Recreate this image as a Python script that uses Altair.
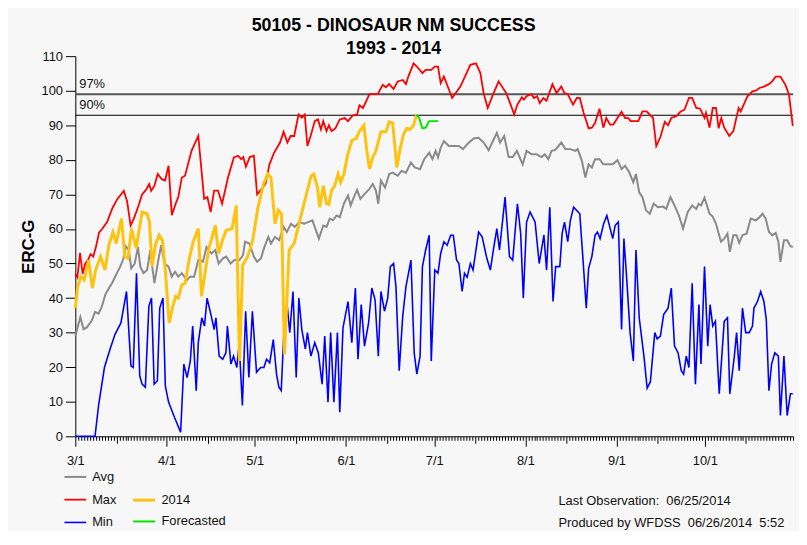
import altair as alt
import pandas as pd

# ---- data (x = days after 3/1, y = ERC-G) ----
max_pts = [(0,47),(0.7,46),(1.6,53),(2.5,47),(3.4,50),(4.3,51),(5.2,52.7),(6.1,52),(7,54.8),(8.1,59),(9.1,60),(10.8,62),
           (12.6,66),(14.3,68.7),(16.5,71),(17.6,68),(18.8,61),(19.9,63),(21.6,67),(22.7,70),(24,71.3),(25.1,73),(25.8,71),
           (26.9,72.5),(28,75.9),(29.4,74.4),(30.5,74),(31.7,78.3),(32.8,64),(34.1,67.3),(35,69.2),(36.2,74.9),(37.3,75.4),
           (39.5,82.6),(41.8,86.9),(43.8,68.7),(44.9,69.2),(46,64.9),(47.2,71.1),(48.5,71.1),(49.9,67.3),(51.9,74.9),
           (53.9,80.7),(55.3,81.2),(56.4,80.2),(57.1,80.8),(58,78),(59.3,80.8),(60.7,81.2),(61.8,70),(63.4,71.6),(64.7,73.2),
           (66,78.7),(67.6,82.1),(69.6,85),(70.8,88.1),(72.1,85),(73.2,86.9),(74.4,86.9),(75.9,93.1),(77,92.2),(78,93.1),
           (78.9,84),(80,86.9),(81.4,91.2),(82.5,91.7),(83.5,88.8),(84.3,91.2),(85.4,88.3),(86.2,90),(87.1,88.3),(88.4,89.1),
           (89.9,91.7),(91.6,92.1),(92.7,91.2),(94.4,92.9),(95.8,93.1),(96.6,95.8),(97.8,95),(100,99),(102.8,99),(104.5,101.7),
           (105.6,101),(106.7,101.9),(108.2,100.5),(109.6,102.7),(111.3,103.1),(112.4,101.9),(113.2,104.1),(115,107.9),
           (116.1,107),(118,105.1),(119.1,106),(121,106),(122.2,107),(123.3,107),(124.2,102.2),(125.3,104.1),(128.1,97.9),
           (130.9,101.2),(134.3,107.5),(136.2,107.9),(137.7,105.1),(138.8,99.3),(140.2,95),(142.2,99.3),(143.9,102.7),
           (146.5,99.3),(147.8,96.4),(149.2,93.1),(150.3,96),(151.8,98.1),(152.5,97.4),(153.4,98.4),(155.1,99),(155.9,97.9),
           (157,98.4),(157.9,96.4),(159.1,97.9),(160.2,97.1),(162.2,101.9),(163.6,99.3),(165.2,101.2),(166.3,99.3),(167.4,99),
           (169.2,96),(170.5,97.9),(171.5,97.9),(172.8,93.6),(174.5,89.1),(175.6,89.3),(176.7,90.7),(178.2,94.8),(179.5,89.3),
           (180.5,92.1),(181.8,90.2),(182.9,90.2),(184.3,92.1),(185.7,93.9),(186.9,92.1),(188,92.1),(188.8,91.2),(191.4,91.2),
           (192.8,94),(194.2,94),(196.4,92.1),(197.5,84),(198.9,86.6),(200.4,91),(201.5,90),(202.6,92.1),(204.3,92.6),
           (205.7,93.9),(207.1,94.5),(208.6,97.9),(209.7,97.9),(211.1,95),(212.4,94.8),(213.9,92.1),(214.4,93.6),(215.6,89.3),
           (216.7,95),(217.8,95),(218.7,89.1),(219.6,92.1),(220.6,89.3),(222.3,86.9),(223.7,88.3),(225.5,95),(226.2,94),
           (228.5,98.4),(230.2,99.8),(231.3,100),(232.6,100.8),(234.1,101.2),(235.8,101.9),(236.9,102.7),(238.1,104.1),
           (239.7,104.1),(241.4,101.7),(242.6,99),(243.9,89.8)]

avg_pts = [(0,29),(1.7,34.5),(2.8,31),(3.9,31.5),(5.6,33.5),(6.7,36),(7.9,35.5),(9,37.5),(10.2,41),(11.5,43),(12.6,44.5),
           (14,47),(15.2,49),(16.2,51),(17.2,55),(18.2,53.9),(19,48.6),(20.2,50),(21.3,54.8),(22.1,49.1),(23.2,47.2),
           (24.4,48.1),(25.5,53.9),(26,50),(26.9,44.3),(28,50),(29.2,55.3),(30.3,50),(31.7,49.1),(32.8,46.2),(33.9,47.6),
           (35,46.2),(36.2,47.2),(37.9,45.2),(39,46.2),(40.4,46.2),(41.8,51),(43.4,50.5),(44.6,54.8),(46.3,52.9),(47.6,53.9),
           (48.7,50),(50.2,51.5),(51.3,52),(52.8,50),(54.1,51),(55.8,51),(57,52.4),(57.7,56.3),(59.2,55.8),(60.7,52),
           (61.8,50.5),(63.1,51.5),(64.3,54.8),(65.6,57.7),(66.5,55.8),(67.9,57.7),(69.3,56.8),(70.8,60.6),(71.9,59.1),
           (73.3,61.5),(74.6,60.6),(76.1,62),(77.8,61.5),(79.1,62),(80.6,62.5),(82.8,57.2),(84.3,61),(85.4,60.6),(86.5,63),
           (87.6,62.5),(88.8,63.9),(89.9,63.4),(91.3,67.3),(92.7,69.7),(93.6,66.8),(94.7,69.2),(95.8,71.3),(96.9,68.7),
           (98.3,70.1),(100,71.6),(101.1,73),(102.2,71.1),(103,67.3),(103.9,74),(105.3,72),(106.7,75.9),(107.9,76.3),
           (109.6,75.4),(110.9,76.8),(112.4,76.3),(114.1,79.2),(115.4,77.8),(117.2,77.3),(118.6,80.2),(120.3,82.1),
           (121.4,80.2),(122.5,82.6),(123.3,80.7),(124.2,83.5),(125.3,85.4),(127,84),(128.7,84),(130.4,84),(131.8,83.1),
           (133.2,84.5),(135.4,86.2),(137.1,86.4),(138.8,85),(140.5,82.8),(143.3,87.8),(144.4,85),(145.8,86.9),(147.3,80.8),
           (148.7,80.8),(150.1,82.6),(152.1,78.7),(153.4,82.6),(155.1,81.6),(156.8,81.6),(158.5,80.8),(159.6,81.6),
           (160.8,80.2),(161.9,82.6),(163,82.8),(163.8,83.5),(165.2,85),(166.6,83.1),(168.3,83.1),(170,82.6),(170.8,83.1),
           (172.2,79.7),(173.4,74.9),(174.5,78.7),(175.6,77.8),(176.7,80.2),(178.2,80.2),(179.5,78.7),(181.2,78.7),
           (182.7,78.7),(184.3,79.9),(185.7,77.3),(186.9,78.3),(188.3,76.4),(189.7,73.5),(190.6,75.9),(191.7,70.6),
           (192.8,69.2),(194,65.4),(195.3,64.4),(196.6,67.3),(198.1,66.3),(199.8,66.5),(200.9,65.8),(202.3,69.2),(203.7,66.8),
           (205.2,63.9),(206.6,60.1),(208.2,64.9),(209.7,66.8),(211.1,65.8),(211.9,67.3),(212.7,66.8),(213.9,69),(215.6,64.4),
           (216.7,63.6),(217.8,61.5),(219.5,56.3),(220.6,57.2),(221.7,58.6),(222.5,53.4),(223.7,58.2),(224.8,58.2),(225.7,56),
           (226.8,58.2),(228.2,58.6),(229.6,63),(231.3,62.5),(232.6,63.4),(233.6,64.4),(234.7,63),(235.8,59.1),(236.9,58.2),
           (238.1,58.8),(239,56.3),(239.7,50.5),(240.9,56.7),(242,56.7),(243.1,55),(243.9,54.8)]

min_pts = [(0,0),(6.7,0),(7.9,8.9),(9.9,19.9),(11.8,25.2),(13.5,29.5),(15.5,32.8),(17.4,41.9),(18.9,20.4),(19.7,19.9),
           (20.8,47.2),(21.9,17.5),(22.7,15.1),(23.8,14.2),(25,37.6),(25.9,40),(26.8,15.1),(27.9,16.1),(28.7,37.1),(29.8,40),
           (30.6,14.6),(31.7,9.9),(33.7,5.5),(35.8,1.2),(36.9,20.9),(38,17),(39.1,21.8),(39.9,31.9),(41.1,13.2),(41.8,27.1),
           (43,34.3),(43.9,31.9),(44.8,40),(46.1,35.2),(47.2,30.9),(47.8,34.3),(48.9,23.2),(50.1,22.3),(51.2,24.2),(51.7,31.9),
           (52.9,20.9),(53.8,23.2),(54.9,19.9),(55.7,26.6),(56.8,8.9),(57.9,36.2),(59,17),(60.2,36.2),(61.6,18.5),(63,19.9),
           (64.1,19.9),(65,22.3),(66.1,21.3),(67.3,28),(68.4,18),(69.2,14.2),(70,13.2),(70.9,30),(72,38.1),(72.9,30),(74,41.9),
           (75.1,17),(76,40),(77,30.9),(78.2,25.2),(78.9,30),(80.1,23.2),(81.4,27.1),(82.6,24.2),(83.9,15.1),(84.8,29),
           (85.9,9.9),(86.8,30),(87.9,9.9),(89.1,30),(89.9,7),(91,31.4),(92.7,39),(94,27.1),(95.2,42.9),(96.1,22.3),(97.2,38.1),
           (98.3,26.1),(99.7,32.8),(100.8,42.9),(101.9,39.5),(103,23.2),(103.9,41.9),(105.1,36.2),(106.2,40),(107.1,49.1),
           (108.2,50),(109,43.3),(110.1,19),(111.3,34.7),(112.4,43.3),(114.1,51),(115.2,24.2),(116.1,18),(117.2,23.2),
           (118,49.1),(119.1,53.9),(120.3,58.2),(121,21.8),(122.2,48.1),(123.3,47.2),(124.2,52.9),(125.3,56.3),(126.4,55.3),
           (127.6,58.2),(128.5,58.2),(129.6,51),(130.4,50),(131.5,41.9),(132.3,47.2),(133.2,46),(134.3,50),(135.2,48.1),
           (137.1,59.1),(138.3,57.7),(139.9,51.5),(141.1,48.1),(142.2,54.4),(143.3,60.1),(144.2,53.9),(146.1,69.2),(147.6,52),
           (148.7,51),(150.3,67.3),(151.4,58.7),(152.3,40),(153.4,62),(154.6,64.9),(156.3,62),(157.7,50),(159.3,58.2),
           (160.2,48.1),(161.3,66.3),(162.4,39),(163.3,49.1),(164.7,49.1),(165.5,58.7),(166.3,62),(167.4,56.3),(168.3,62.5),
           (169.4,66.3),(171.5,64.4),(172.6,51),(173.7,37.1),(174.5,48.6),(175.6,52),(176.7,58.2),(177.5,59.1),(178.4,57.2),
           (179.6,61.5),(180.7,63.9),(182.7,57.2),(183.5,61),(184.6,62),(185.7,30.9),(186.5,57.2),(187.4,46.2),(188.6,30),
           (189.7,21.8),(190.6,53.9),(191.7,34.3),(193.3,23.2),(194.4,13.9),(195.5,15.8),(197,30),(197.8,28.2),(198.9,29),
           (200,35.2),(201.5,37.1),(202.6,42.9),(203.7,26.1),(204.9,24.2),(206,19),(206.8,18),(207.7,23.2),(208.6,19.9),
           (209.7,44.3),(210.8,15.1),(212,38.1),(212.7,20.9),(213.9,49.1),(215,26.1),(215.8,38.1),(216.7,31.9),(217.6,33.3),
           (218.9,12.3),(220.6,33.3),(221.7,34.3),(222.5,12.3),(224,22.8),(224.8,30),(225.7,19),(226.8,37.1),(227.9,30),
           (229.1,30),(230.2,31.9),(230.7,37.1),(231.9,39),(233,41.9),(234.1,39),(234.9,33.8),(235.8,13.2),(236.7,20.9),
           (237.8,24.2),(239,23.2),(239.7,6),(240.9,23.2),(242,6),(243.1,12.3),(243.9,12.3)]

cur_pts = [(0,37.1),(0.8,43.3),(1.9,46.2),(3,45.3),(4.5,51),(5.8,42.9),(6.9,48.1),(8.6,52),(10.1,48.1),(11.4,55.3),
           (12.8,59.1),(13.9,55.8),(15.7,63),(16.8,52),(17.9,51.5),(19.1,60.1),(20.7,54.4),(22.7,64.9),(24.4,64.4),(25.2,62),
           (26.1,49.1),(27.2,55.3),(28.5,58.2),(29.6,56.7),(30.5,49.1),(31.9,32.8),(33,37.1),(34.1,40.5),(35,40),(36.2,43.8),
           (37.3,44.3),(38.9,52),(40.1,56.3),(41.8,60.1),(42.9,40.5),(44,46.7),(45.4,54.4),(47.6,61),(48.7,52.9),(50.2,57.2),
           (51.3,59.6),(53.3,60.1),(54.7,66.8),(55.8,21.8),(56.9,49.6),(58.6,52),(60.3,56.7),(62,65.8),(64,73),(65.4,75.9),
           (66.5,74.9),(67.9,61.5),(69,65.4),(70.1,64.4),(71.1,23.7),(72.7,53.9),(74.4,55.8),(76.6,63.4),(78.3,69.2),
           (80.2,75.4),(81.1,75.9),(82.3,72),(83.1,66.3),(84.3,72.5),(85.4,67.3),(86.2,67.1),(87.1,71.1),(88.2,72.5),
           (89.3,75.9),(90.2,73.5),(91.3,75.9),(92.5,81.2),(94,85.6),(95.5,86.2),(96.6,88.3),(98.1,90),(98.9,84),(100,77.3),
           (101.1,80.7),(102.2,82.6),(103.9,88.1),(105.6,88.1),(106.7,91),(107.9,90.7),(109.3,77.8),(110.5,83.5),
           (111.6,87.4),(112.7,89.1),(113.8,88.8),(115,90),(116,93.1)]

fc_pts = [(116,93.1),(116.9,92.1),(118,89.1),(119.1,89.3),(120.3,91.2),(123.3,91.2)]

month_days = [0, 31, 61, 92, 122, 153, 184, 214]
month_labels = ["3/1", "4/1", "5/1", "6/1", "7/1", "8/1", "9/1", "10/1"]
mid_days = [14, 45, 75, 106, 136, 167, 198, 228]
pct_values = [99.0, 92.9]
pct_labels = ["97%", "90%"]
NB = "\u00a0"
notes = [f"Last Observation:{NB}{NB}06/25/2014", f"Produced by WFDSS{NB}{NB}06/26/2014{NB}{NB}5:52"]

FONT = "Liberation Sans, Arial, sans-serif"

def frame(pts, name, col):
    return pd.DataFrame({"day": [p[0] for p in pts], "value": [p[1] for p in pts], col: name})

hist = pd.concat([frame(avg_pts, "Avg", "series"), frame(max_pts, "Max", "series"),
                  frame(min_pts, "Min", "series")], ignore_index=True)
cur = pd.concat([frame(cur_pts, "2014", "series2"), frame(fc_pts, "Forecasted", "series2")], ignore_index=True)
pct = pd.DataFrame({"value": pct_values, "label": pct_labels})

md = str(month_days)
mid = str(mid_days)
label_expr = (f"indexof({md}, datum.value) >= 0 ? "
              f"{str(month_labels)}[indexof({md}, datum.value)] : ''")

x_axis = alt.Axis(values=list(range(0, 245)), labelExpr=label_expr, labelOverlap=False, labelFlush=False,
                  title=None, grid=False, domainColor="#000", tickColor="#000", tickWidth=1,
                  tickSize={"condition": [{"test": f"indexof({md}, datum.value) >= 0", "value": 10},
                                          {"test": f"indexof({mid}, datum.value) >= 0", "value": 7}],
                            "value": 4},
                  labelFontSize=13, labelFont=FONT, labelColor="#111", labelPadding=8)
y_axis = alt.Axis(values=list(range(0, 111, 10)), title="ERC-G", titleFontSize=17, titleFontWeight="bold",
                  titleFont=FONT, titleColor="#000", titlePadding=4, grid=False, domainColor="#000",
                  tickColor="#000", tickSize=10, labelFontSize=13, labelFont=FONT, labelColor="#111",
                  labelPadding=3)

xs = alt.Scale(domain=[0, 244], nice=False, zero=False)
ys = alt.Scale(domain=[0, 110], nice=False)
X = alt.X("day:Q", scale=xs, axis=x_axis)
Y = alt.Y("value:Q", scale=ys, axis=y_axis)

leg1 = alt.Legend(title=None, orient="none", legendX=-12, legendY=413, direction="vertical", symbolType="stroke",
                  symbolSize=484, symbolStrokeWidth=3, labelFontSize=13, labelFont=FONT, labelColor="#111",
                  rowPadding=4, padding=0, labelOffset=5)
leg2 = alt.Legend(title=None, orient="none", legendX=57, legendY=436, direction="vertical", symbolType="stroke",
                  symbolSize=484, symbolStrokeWidth=3, labelFontSize=13, labelFont=FONT, labelColor="#111",
                  rowPadding=2, padding=0, labelOffset=5)

hist_lines = alt.Chart(hist).mark_line().encode(
    x=X, y=Y,
    color=alt.Color("series:N", scale=alt.Scale(domain=["Avg", "Max", "Min"],
                                                range=["#8a8a8a", "#ff0000", "#0000ff"]), legend=leg1),
    strokeWidth=alt.StrokeWidth("series:N", scale=alt.Scale(domain=["Avg", "Max", "Min"], range=[2, 1.6, 1.8]),
                                legend=None),
)

cur_lines = alt.Chart(cur).mark_line().encode(
    x=X, y=Y,
    color=alt.Color("series2:N", scale=alt.Scale(domain=["2014", "Forecasted"],
                                                 range=["#ffc20e", "#00e600"]), legend=leg2),
    strokeWidth=alt.StrokeWidth("series2:N", scale=alt.Scale(domain=["2014", "Forecasted"], range=[3, 2]),
                                legend=None),
)

rule97 = alt.Chart(pct.iloc[[0]]).mark_rule(color="#555", strokeWidth=2).encode(y=Y)
rule90 = alt.Chart(pct.iloc[[1]]).mark_rule(color="#000", strokeWidth=1.2).encode(y=Y)
pct_text = alt.Chart(pct).mark_text(align="left", baseline="bottom", dy=-3, fontSize=13, font=FONT,
                                    color="#111").encode(x=alt.value(4), y=Y, text="label:N")

note1 = alt.Chart(pd.DataFrame({"t": [notes[0]]})).mark_text(
    align="left", baseline="middle", fontSize=13, font=FONT, color="#111").encode(
    x=alt.value(488), y=alt.value(449), text="t:N")
note2 = alt.Chart(pd.DataFrame({"t": [notes[1]]})).mark_text(
    align="left", baseline="middle", fontSize=13, font=FONT, color="#111").encode(
    x=alt.value(488), y=alt.value(472), text="t:N")

chart = alt.layer(rule97, rule90, pct_text, hist_lines, cur_lines, note1, note2).resolve_scale(
    color="independent", strokeWidth="independent"
).properties(
    width=725, height=384,
    autosize=alt.AutoSizeParams(type="none"),
    padding={"left": 68, "top": 46, "right": 6, "bottom": 93},
    title=alt.Title(["50105 - DINOSAUR NM SUCCESS", "1993 - 2014"], fontSize=18, fontWeight="bold",
                    font=FONT, color="#000", anchor="middle", dx=-41, dy=10, offset=2, lineHeight=23),
).configure(background="#f7f7f7").configure_view(stroke=None)

chart.save("out.html", embed_options={"renderer": "svg", "actions": False})
